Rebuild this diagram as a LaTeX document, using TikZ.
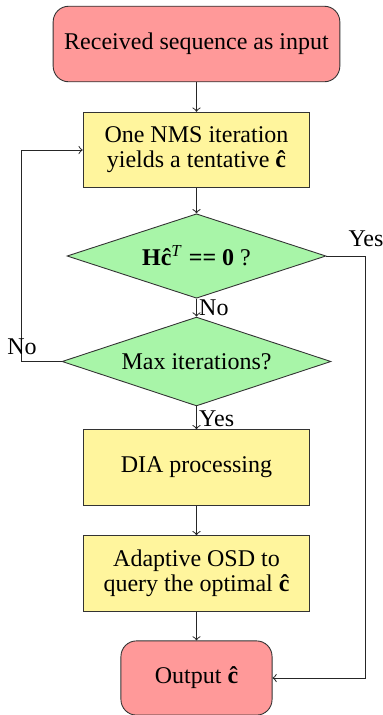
\documentclass[tikz,border=0pt]{standalone}
\usepackage{fontspec}
\setmainfont{Liberation Serif}
\usetikzlibrary{shapes.geometric}
\definecolor{boxred}{RGB}{255,153,153}
\definecolor{boxyellow}{RGB}{255,245,157}
\definecolor{boxgreen}{RGB}{168,245,168}
\tikzset{
  termbox/.style={draw=black!80, fill=boxred, rounded corners=7pt, align=center, inner sep=0pt},
  procbox/.style={draw=black!80, fill=boxyellow, align=center, inner sep=0pt, minimum width=102pt, minimum height=34pt},
  decbox/.style={draw=black!80, fill=boxgreen, diamond, aspect=3, align=center, inner sep=0pt},
  flow/.style={->, draw=black!85, line width=0.45pt},
  lbl/.style={font=\fontsize{10.8}{12}\selectfont, inner sep=1pt}
}
\begin{document}
\begin{tikzpicture}[x=0.45pt, y=-0.45pt, font=\fontsize{10.8}{11.25}\selectfont]
\useasboundingbox (0,0) rectangle (383,715);
\node[termbox, minimum width=129pt, minimum height=34pt] (in) at (196.5,44) {Received sequence as input};
\node[procbox] (nms) at (196.5,150) {One NMS iteration\\yields a tentative \textbf{ĉ}};
\node[decbox, minimum width=116.5pt, minimum height=38pt] (chk) at (196.5,256) {\textbf{Hĉ}\textsuperscript{\textit{T}} \textbf{== 0} ?};
\node[decbox, minimum width=121pt, minimum height=40pt] (max) at (196.5,361.5) {Max iterations?};
\node[procbox] (dia) at (196.5,467.5) {DIA processing};
\node[procbox] (osd) at (196.5,573.5) {Adaptive OSD to\\query the optimal \textbf{ĉ}};
\node[termbox, minimum width=68pt, minimum height=33.4pt] (out) at (196.5,678) {Output \textbf{ĉ}};
\coordinate (lc) at (22,361.5);
\coordinate (rc) at (366,256);
\draw[flow] (in) -- (nms);
\draw[flow] (nms) -- (chk);
\draw[flow] (chk) -- node[lbl, right, pos=0.5] {No} (max);
\draw[flow] (max) -- node[lbl, right, pos=0.55] {Yes} (dia);
\draw[flow] (dia) -- (osd);
\draw[flow] (osd) -- (out);
\draw[flow] (max.west) -- (lc) node[lbl, above, yshift=2pt] {No} |- (nms.west);
\draw[flow] (chk.east) -- (rc) node[lbl, above, yshift=3pt] {Yes} |- (out.east);
\end{tikzpicture}
\end{document}
